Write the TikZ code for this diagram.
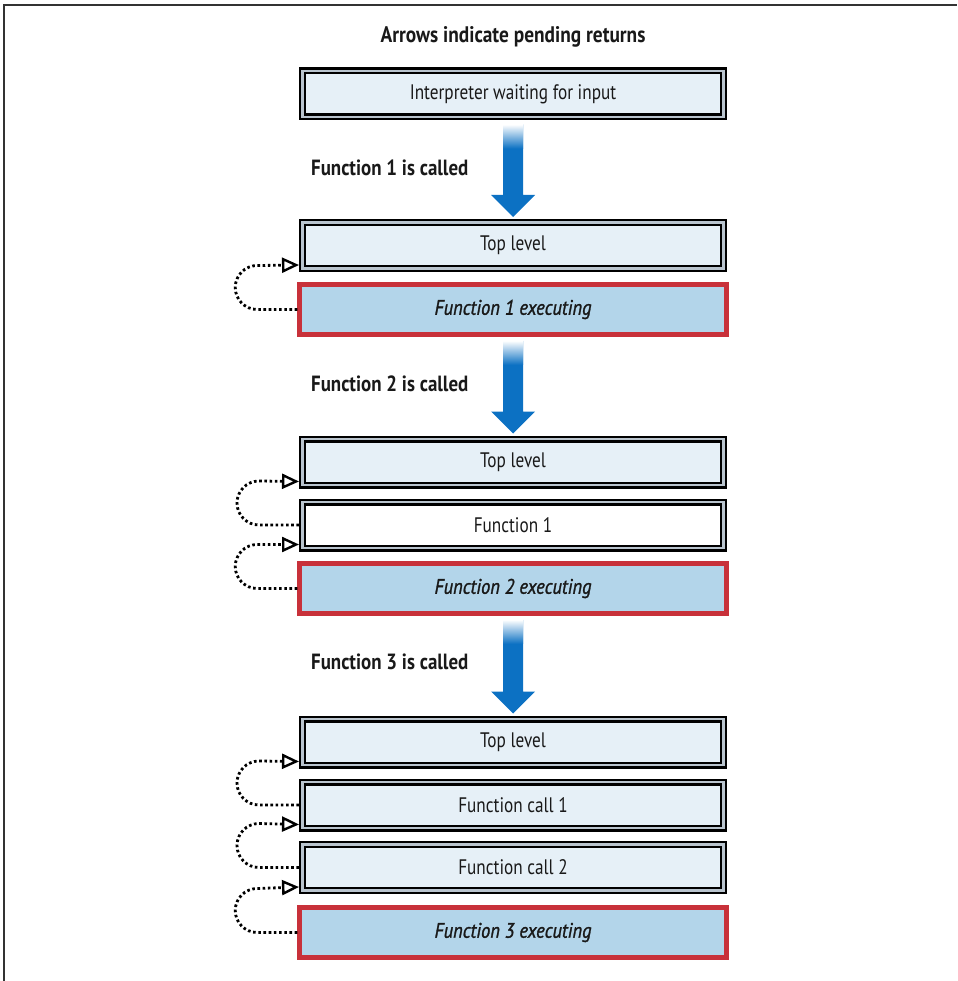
\documentclass[tikz,border=0pt]{standalone}
\usepackage{fontspec}
\setmainfont[FakeStretch=0.82]{PT Sans}
\newfontfamily\boldfont[FakeStretch=0.86]{PT Sans}
\newfontfamily\semifont[FakeStretch=0.88,FakeBold=1.3]{PT Sans}
\usepackage{xcolor}
\usepackage{tikz}
\usetikzlibrary{arrows.meta}

\definecolor{paleblue}{RGB}{230,240,247}
\definecolor{gapgray}{RGB}{185,196,206}
\definecolor{execblue}{RGB}{179,213,234}
\definecolor{execred}{RGB}{200,49,58}
\definecolor{callblue}{RGB}{12,113,195}

\tikzset{
  level/.style={draw=black, line width=2.2pt, double=gapgray, double distance=2.6pt,
    fill=paleblue, minimum width=421pt, minimum height=46pt, outer sep=3.5pt,
    inner sep=0pt, text=black!90, font=\fontsize{21}{24}\selectfont},
  running/.style={draw=execred, line width=4.5pt, fill=execblue, minimum width=427pt,
    minimum height=50pt, outer sep=2.25pt, inner sep=0pt, text=black!90,
    font=\fontsize{21}{24}\selectfont\semifont\itshape},
  calllabel/.style={anchor=west, inner sep=0pt, text=black!90,
    font=\fontsize{22}{25}\selectfont\boldfont\bfseries},
  heading/.style={inner sep=0pt, text=black!90, font=\fontsize{22.5}{25}\selectfont\boldfont\bfseries},
  ret/.style={line width=2.8pt, dash pattern=on 2.6pt off 2.6pt,
    -{Triangle[open, length=17pt, width=15pt, line width=2.4pt]}}
}

\begin{document}
\begin{tikzpicture}[x=1pt,y=1pt]
\useasboundingbox (0,0) rectangle (957,-981);
\draw[line width=1.6pt, black!80] (4,-981) -- (4,-5) -- (957,-5);

\node[heading] (title) at (513,-37) {Arrows indicate pending returns};
\node[level] (wait) at (513,-94) {Interpreter waiting for input};

\node[calllabel] (callA) at (311,-168) {Function 1 is called};
\node[level] (topA) at (513,-245.5) {Top level};
\node[running] (execA) at (513,-309.5) {Function 1 executing};

\node[calllabel] (callB) at (311,-384) {Function 2 is called};
\node[level] (topB) at (513,-462) {Top level};
\node[level, fill=white] (funB) at (513,-525) {Function 1};
\node[running] (execB) at (513,-588.5) {Function 2 executing};

\node[calllabel] (callC) at (311,-662) {Function 3 is called};
\node[level] (topC) at (513,-742) {Top level};
\node[level] (funC) at (513,-805) {Function call 1};
\node[level] (fun2C) at (513,-867.5) {Function call 2};
\node[running] (execC) at (513,-932.5) {Function 3 executing};

\foreach \from/\to in {wait/topA, execA/topB, execB/topC} {
  \fill[callblue] ([shift={(-10pt,-4pt)}]\from.south) -- ([shift={(-10pt,24pt)}]\to.north)
    -- ([shift={(-22pt,24pt)}]\to.north) -- ([yshift=2pt]\to.north)
    -- ([shift={(22pt,24pt)}]\to.north) -- ([shift={(10pt,24pt)}]\to.north)
    -- ([shift={(10pt,-4pt)}]\from.south) -- cycle;
  \shade[top color=white, bottom color=callblue] ([shift={(-10pt,-4pt)}]\from.south)
    rectangle ([shift={(10pt,-28pt)}]\from.south);
}

\foreach \low/\up in {execA/topA, funB/topB, execB/funB, funC/topC, fun2C/funC, execC/fun2C}
  \draw[ret] (\low.west) -- ++(-40pt,0) arc[start angle=270, end angle=90, radius=22pt]
    -- ([yshift=7pt]\up.south west);
\end{tikzpicture}
\end{document}
